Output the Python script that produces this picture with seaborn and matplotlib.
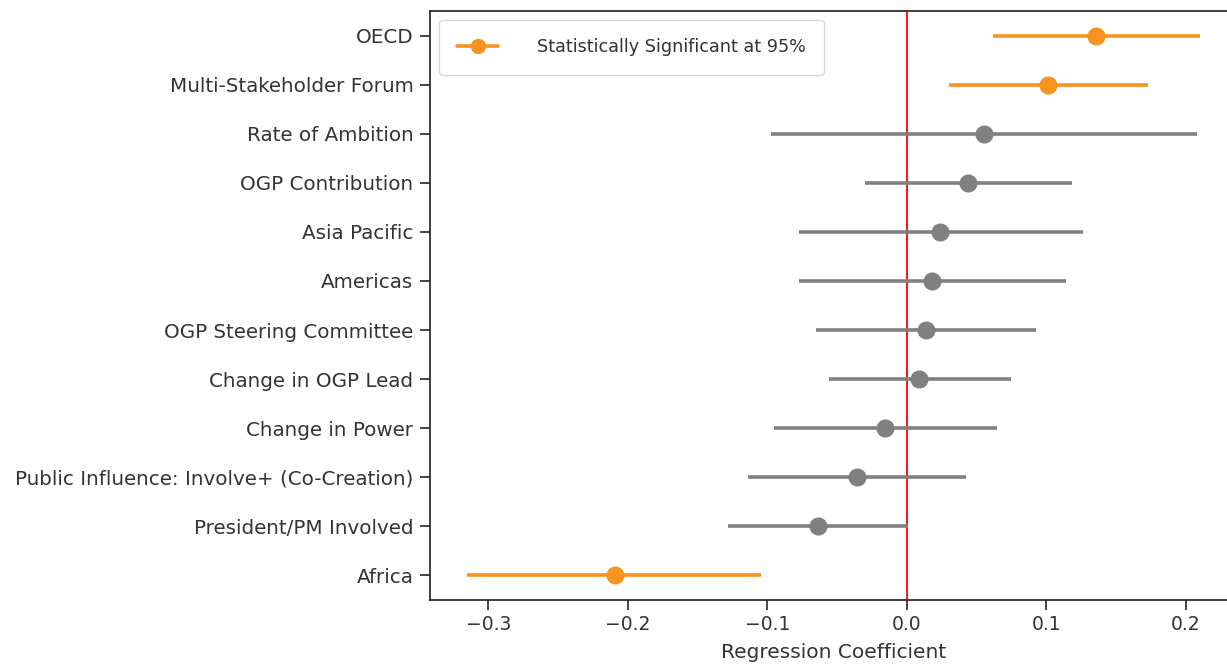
import matplotlib
matplotlib.use("Agg")
import matplotlib.pyplot as plt
from matplotlib.lines import Line2D
import seaborn as sns

# coefficient estimates with 95% interval bounds, top to bottom
labels = ["OECD", "Multi-Stakeholder Forum", "Rate of Ambition", "OGP Contribution",
          "Asia Pacific", "Americas", "OGP Steering Committee", "Change in OGP Lead",
          "Change in Power", "Public Influence: Involve+ (Co-Creation)",
          "President/PM Involved", "Africa"]
coef = [0.1356, 0.1012, 0.0552, 0.0440, 0.0239, 0.0179, 0.0134, 0.0085,
        -0.0158, -0.0358, -0.0640, -0.2095]
lower = [0.0617, 0.0300, -0.0972, -0.0301, -0.0776, -0.0771, -0.0650, -0.0560,
         -0.0954, -0.1137, -0.1283, -0.3154]
upper = [0.2097, 0.1725, 0.2080, 0.1185, 0.1264, 0.1140, 0.0925, 0.0744,
         0.0647, 0.0420, 0.0007, -0.1042]
significant = [True, True, False, False, False, False, False, False,
               False, False, False, True]

sns.set_theme(style="ticks")
plt.rcParams["font.family"] = ["DejaVu Sans"]

orange = "#f7931e"
grey = "#808080"

fig = plt.figure(figsize=(12.27, 6.66), dpi=100)
ax = fig.add_axes([0.3505, 0.0991, 0.657, 0.8844])

ax.axvline(0, color="red", lw=1.3, zorder=1)

for i, (c, lo, hi, sig) in enumerate(zip(coef, lower, upper, significant)):
    col = orange if sig else grey
    ax.errorbar(c, i, xerr=[[c - lo], [hi - c]], fmt="o", color=col,
                ecolor=col, elinewidth=2.6, markersize=12, capsize=0, zorder=3)

ax.set_yticks(range(len(labels)))
ax.set_yticklabels(labels, fontsize=14.3, color="#333333")
ax.set_ylim(len(labels) - 0.5, -0.5)
ax.set_xticks([-0.3, -0.2, -0.1, 0.0, 0.1, 0.2])
ax.tick_params(axis="x", labelsize=13.5, labelcolor="#333333")
ax.tick_params(length=7, width=1.2)
ax.tick_params(axis="y", pad=5)
ax.set_xlabel("Regression Coefficient", fontsize=14.5, labelpad=7, color="#333333")

handle = Line2D([], [], color=orange, lw=2.6, marker="o", markersize=10)
ax.legend([handle], ["Statistically Significant at 95%"], loc="upper left",
          fontsize=12.7, borderpad=1.05, handletextpad=2.2, handlelength=2.3,
          labelcolor="#333333")

fig.savefig("out.png", dpi=100)
